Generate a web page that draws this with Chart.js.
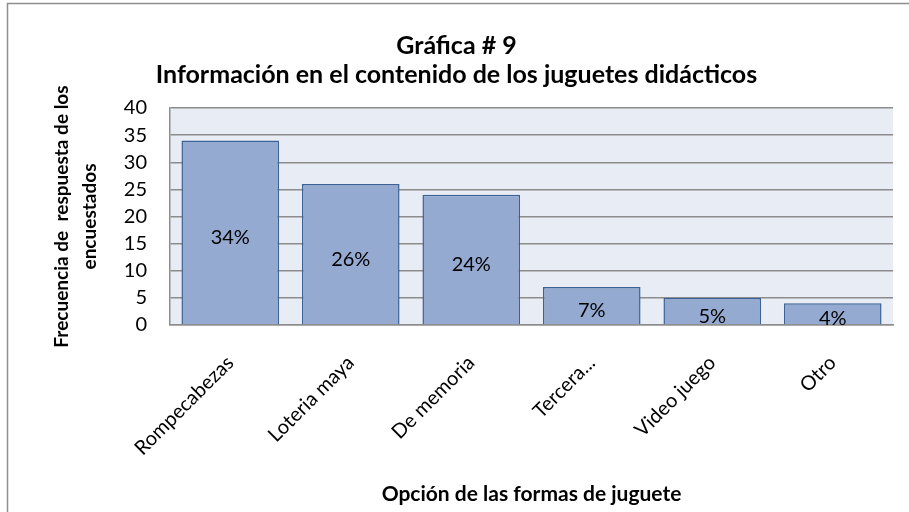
<!DOCTYPE html>
<html>
<head>
<meta charset="utf-8">
<script src="https://cdn.jsdelivr.net/npm/chart.js@4.4.1/dist/chart.umd.min.js"></script>
<style>
    html, body { margin: 0; padding: 0; background: #ffffff; }
    #divChart { width: 909px; height: 512px; }
</style>
</head>
<body>
<div id="divChart"><canvas id="cnvJuguetes"></canvas></div>
<script>
/**
 * DATA
 */
const categories = ['Rompecabezas', 'Loteria maya', 'De memoria', 'Tercera...', 'Video juego', 'Otro'];
const frequencies = [34, 26, 24, 7, 5, 4];
const percentLabels = ['34%', '26%', '24%', '7%', '5%', '4%'];
const chartTitle = ['Gráfica # 9', 'Información en el contenido de los juguetes didácticos'];
const yTitle = ['Frecuencia de  respuesta de los', 'encuestados'];
const xTitle = 'Opción de las formas de juguete';

const fontName = 'Lato, "Open Sans", sans-serif';

/**
 * plugin: background of plot area and outer frame
 */
const backgroundPlugin = {
    id: 'backgroundPlugin',
    beforeDraw(chart) {
        let ctx = chart.ctx;
        let area = chart.chartArea;
        ctx.save();
        ctx.fillStyle = '#ffffff';
        ctx.fillRect(0, 0, chart.width, chart.height);
        ctx.fillStyle = '#E8ECF4';
        ctx.fillRect(area.left, area.top, area.right - area.left, area.bottom - area.top);
        ctx.strokeStyle = '#8E8E8E';
        ctx.lineWidth = 1.5;
        ctx.strokeRect(7.5, 3.5, chart.width + 10, chart.height + 10);
        ctx.restore();
    }
};

/**
 * plugin: percent labels in the middle of each bar
 */
const percentPlugin = {
    id: 'percentPlugin',
    afterDatasetsDraw(chart) {
        let ctx = chart.ctx;
        let meta = chart.getDatasetMeta(0);
        ctx.save();
        ctx.font = '20px ' + fontName;
        ctx.fillStyle = '#000000';
        ctx.textAlign = 'center';
        ctx.textBaseline = 'middle';
        meta.data.forEach((bar, i) => {
            let yMid = (bar.y + bar.base) / 2 + 5;
            ctx.fillText(percentLabels[i], bar.x, yMid);
        });
        ctx.restore();
    }
};

function PaintChart() {
    let canvas = document.querySelector('#cnvJuguetes');
    new Chart(canvas, {
        type: 'bar',
        data: {
            labels: categories,
            datasets: [{
                data: frequencies,
                backgroundColor: '#95AAD1',
                borderColor: '#3C6296',
                borderWidth: 1.5,
                categoryPercentage: 1,
                barPercentage: 0.81
            }]
        },
        options: {
            responsive: true,
            maintainAspectRatio: false,
            animation: false,
            layout: { padding: { left: 20, right: 16, top: 20, bottom: 4 } },
            plugins: {
                legend: { display: false },
                tooltip: { enabled: false },
                title: {
                    display: true,
                    text: chartTitle,
                    color: '#000000',
                    font: { family: fontName, size: 25, weight: 'bold', lineHeight: 1.16 },
                    padding: { top: 11, bottom: 19 }
                }
            },
            scales: {
                x: {
                    afterFit(scale) { scale.height = 183; },
                    grid: { display: false },
                    border: { display: true, color: '#8E8E8E', width: 1.5 },
                    ticks: {
                        color: '#000000',
                        font: { family: fontName, size: 20 },
                        minRotation: 45,
                        maxRotation: 45,
                        padding: 18
                    },
                    title: {
                        display: true,
                        text: xTitle,
                        color: '#000000',
                        font: { family: fontName, size: 21, weight: 'bold', lineHeight: 1.2 },
                        padding: { top: 0, bottom: 1 }
                    }
                },
                y: {
                    afterFit(scale) { scale.width = 150; },
                    min: 0,
                    max: 40,
                    ticks: {
                        stepSize: 5,
                        color: '#000000',
                        font: { family: fontName, size: 20 },
                        padding: 23
                    },
                    grid: { color: '#8C8C8C', lineWidth: 1.5, drawTicks: false },
                    border: { display: true, color: '#8E8E8E', width: 1.5 },
                    title: {
                        display: true,
                        text: yTitle,
                        color: '#000000',
                        font: { family: fontName, size: 19, weight: 'bold', lineHeight: 1.47 },
                        padding: { top: 28, bottom: 0 }
                    }
                }
            }
        },
        plugins: [backgroundPlugin, percentPlugin]
    });
}

PaintChart();
</script>
</body>
</html>
